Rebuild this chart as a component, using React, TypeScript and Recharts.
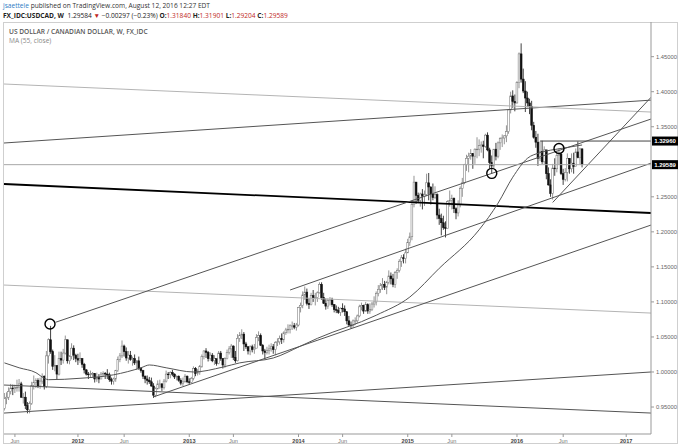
import React from "react";
import { ComposedChart, Bar, Line, XAxis, YAxis, ReferenceLine, ReferenceDot } from "recharts";

// x is counted in weeks, week 0 = the week of 2 Jan 2012. The first bar is the week of 2 May 2011.
const FIRST_WEEK = -35;
const FIRST_OPEN = 0.948;

// weekly [high, low, close]; an FX week opens at the previous close
const bars2011 = [
  [0.970, 0.945, 0.962], [0.971, 0.954, 0.964], [0.978, 0.960, 0.972], [0.983, 0.968, 0.977],
  [0.982, 0.967, 0.976], [0.982, 0.970, 0.978], [0.989, 0.972, 0.978], [0.990, 0.972, 0.983],
  [0.986, 0.963, 0.964], [0.970, 0.955, 0.964], [0.972, 0.947, 0.952], [0.957, 0.941, 0.946],
  [0.958, 0.941, 0.955], [0.986, 0.953, 0.981], [0.995, 0.975, 0.985], [0.991, 0.977, 0.988],
  [0.991, 0.977, 0.980], [0.992, 0.976, 0.987], [0.998, 0.983, 0.994], [0.995, 0.975, 0.979],
  [1.030, 0.977, 1.023], [1.048, 1.012, 1.046], [1.0658, 1.026, 1.029], [1.032, 1.003, 1.008],
  [1.024, 1.001, 1.009], [1.010, 0.989, 0.997], [1.029, 0.995, 1.019], [1.029, 1.010, 1.017],
  [1.033, 1.012, 1.027], [1.052, 1.025, 1.046], [1.046, 1.012, 1.016], [1.024, 1.011, 1.022],
  [1.041, 1.018, 1.034], [1.038, 1.017, 1.024], [1.026, 1.014, 1.019],
];
const bars2012 = [
  [1.026, 1.010, 1.017], [1.028, 1.013, 1.019], [1.020, 1.006, 1.011], [1.013, 0.998, 1.003],
  [1.004, 0.995, 0.997], [1.000, 0.990, 0.996], [1.002, 0.992, 0.997], [1.000, 0.993, 0.998],
  [0.997, 0.985, 0.990], [0.999, 0.986, 0.992], [0.997, 0.984, 0.990], [1.000, 0.993, 0.997],
  [1.001, 0.993, 0.998], [1.000, 0.990, 0.997], [1.004, 0.990, 0.996], [0.999, 0.986, 0.989],
  [0.992, 0.982, 0.987], [0.992, 0.982, 0.990], [1.003, 0.986, 1.002], [1.022, 1.000, 1.018],
  [1.027, 1.014, 1.023], [1.045, 1.020, 1.037], [1.039, 1.022, 1.029], [1.035, 1.016, 1.020],
  [1.030, 1.012, 1.024], [1.030, 1.016, 1.018], [1.022, 1.009, 1.019], [1.025, 1.010, 1.013],
  [1.017, 1.003, 1.016], [1.022, 1.003, 1.005], [1.007, 0.999, 1.002], [1.003, 0.990, 0.994],
  [0.995, 0.984, 0.990], [0.995, 0.982, 0.988], [0.993, 0.983, 0.986], [0.992, 0.979, 0.980],
  [0.984, 0.963, 0.967], [0.978, 0.964, 0.976], [0.988, 0.975, 0.983], [0.989, 0.976, 0.983],
  [0.984, 0.973, 0.978], [0.990, 0.975, 0.987], [1.002, 0.985, 0.997], [1.000, 0.990, 0.996],
  [1.001, 0.991, 0.999], [1.003, 0.994, 0.997], [0.998, 0.990, 0.993], [0.995, 0.988, 0.994],
  [0.995, 0.986, 0.988], [0.991, 0.981, 0.984], [0.992, 0.980, 0.986], [0.997, 0.985, 0.994],
  [0.995, 0.984, 0.986],
];
const bars2013 = [
  [0.991, 0.982, 0.985], [0.993, 0.984, 0.991], [1.008, 0.988, 1.005], [1.007, 0.994, 0.998],
  [1.004, 0.995, 0.999], [1.010, 0.996, 1.008], [1.025, 1.006, 1.022], [1.031, 1.018, 1.030],
  [1.034, 1.020, 1.028], [1.030, 1.015, 1.019], [1.028, 1.016, 1.024], [1.027, 1.014, 1.016],
  [1.024, 1.010, 1.019], [1.019, 1.009, 1.012], [1.030, 1.011, 1.027], [1.030, 1.016, 1.019],
  [1.020, 1.005, 1.010], [1.021, 1.006, 1.019], [1.032, 1.018, 1.028], [1.037, 1.025, 1.033],
  [1.040, 1.020, 1.037], [1.038, 1.017, 1.021], [1.030, 1.013, 1.016], [1.054, 1.015, 1.048],
  [1.057, 1.043, 1.052], [1.061, 1.047, 1.054], [1.057, 1.030, 1.040], [1.043, 1.033, 1.036],
  [1.037, 1.025, 1.030], [1.038, 1.024, 1.036], [1.039, 1.028, 1.032], [1.040, 1.026, 1.034],
  [1.054, 1.034, 1.049], [1.058, 1.044, 1.052], [1.055, 1.037, 1.038], [1.040, 1.025, 1.030],
  [1.033, 1.018, 1.028], [1.036, 1.025, 1.031], [1.039, 1.025, 1.033], [1.041, 1.029, 1.036],
  [1.040, 1.026, 1.032], [1.044, 1.024, 1.042], [1.048, 1.037, 1.043], [1.052, 1.039, 1.048],
  [1.055, 1.040, 1.046], [1.058, 1.042, 1.056], [1.063, 1.053, 1.060], [1.068, 1.055, 1.061],
  [1.068, 1.055, 1.066], [1.072, 1.060, 1.066], [1.070, 1.061, 1.064], [1.070, 1.059, 1.067],
];
const bars2014 = [
  [1.093, 1.065, 1.092], [1.099, 1.085, 1.095], [1.115, 1.091, 1.110], [1.122, 1.103, 1.114],
  [1.119, 1.095, 1.098], [1.105, 1.090, 1.096], [1.113, 1.095, 1.109], [1.117, 1.100, 1.106],
  [1.113, 1.095, 1.106], [1.115, 1.100, 1.113], [1.128, 1.112, 1.125], [1.128, 1.103, 1.106],
  [1.113, 1.097, 1.098], [1.105, 1.089, 1.094], [1.105, 1.090, 1.102], [1.107, 1.095, 1.103],
  [1.106, 1.093, 1.096], [1.097, 1.085, 1.089], [1.095, 1.084, 1.088], [1.093, 1.083, 1.085],
  [1.092, 1.080, 1.091], [1.098, 1.085, 1.090], [1.095, 1.080, 1.086], [1.087, 1.068, 1.073],
  [1.080, 1.066, 1.067], [1.072, 1.062, 1.066], [1.075, 1.063, 1.073], [1.078, 1.067, 1.073],
  [1.082, 1.070, 1.080], [1.096, 1.078, 1.093], [1.099, 1.088, 1.095], [1.096, 1.083, 1.087],
  [1.100, 1.086, 1.096], [1.098, 1.083, 1.087], [1.098, 1.083, 1.089], [1.100, 1.087, 1.097],
  [1.108, 1.092, 1.100], [1.115, 1.095, 1.112], [1.124, 1.108, 1.118], [1.127, 1.113, 1.123],
  [1.134, 1.117, 1.125], [1.130, 1.117, 1.121], [1.130, 1.111, 1.128], [1.145, 1.125, 1.137],
  [1.142, 1.125, 1.133], [1.140, 1.121, 1.125], [1.144, 1.120, 1.142], [1.148, 1.133, 1.145],
  [1.161, 1.142, 1.158], [1.167, 1.150, 1.163], [1.168, 1.155, 1.162], [1.176, 1.155, 1.170],
];
const bars2015 = [
  [1.190, 1.170, 1.185], [1.199, 1.180, 1.193], [1.245, 1.188, 1.239], [1.280, 1.235, 1.271],
  [1.271, 1.240, 1.252], [1.256, 1.241, 1.245], [1.256, 1.236, 1.254], [1.261, 1.232, 1.251],
  [1.259, 1.237, 1.253], [1.283, 1.251, 1.270], [1.284, 1.245, 1.264], [1.265, 1.239, 1.254],
  [1.269, 1.245, 1.249], [1.265, 1.247, 1.253], [1.255, 1.218, 1.224], [1.233, 1.210, 1.219],
  [1.226, 1.195, 1.213], [1.223, 1.203, 1.206], [1.215, 1.192, 1.205], [1.245, 1.205, 1.243],
  [1.259, 1.236, 1.245], [1.253, 1.232, 1.248], [1.249, 1.227, 1.233], [1.235, 1.218, 1.227],
  [1.245, 1.222, 1.239], [1.265, 1.235, 1.262], [1.277, 1.250, 1.270], [1.297, 1.268, 1.296],
  [1.310, 1.287, 1.305], [1.313, 1.285, 1.308], [1.318, 1.303, 1.312], [1.310, 1.290, 1.308],
  [1.319, 1.297, 1.318], [1.335, 1.305, 1.318], [1.332, 1.308, 1.323], [1.329, 1.313, 1.324],
  [1.330, 1.305, 1.322], [1.340, 1.320, 1.338], [1.342, 1.315, 1.317], [1.320, 1.290, 1.299],
  [1.309, 1.283, 1.294], [1.318, 1.290, 1.318], [1.327, 1.302, 1.308], [1.329, 1.305, 1.327],
  [1.335, 1.317, 1.333], [1.339, 1.321, 1.334], [1.338, 1.325, 1.337], [1.352, 1.328, 1.343],
  [1.375, 1.340, 1.374], [1.400, 1.369, 1.394], [1.402, 1.377, 1.386], [1.396, 1.372, 1.384],
];
const bars2016 = [
  [1.415, 1.383, 1.413], [1.456, 1.405, 1.454], [1.469, 1.413, 1.418], [1.433, 1.398, 1.401],
  [1.415, 1.371, 1.391], [1.400, 1.378, 1.384], [1.390, 1.368, 1.379], [1.387, 1.345, 1.352],
  [1.357, 1.333, 1.335], [1.344, 1.320, 1.328], [1.340, 1.294, 1.305], [1.329, 1.301, 1.315],
  [1.330, 1.297, 1.300], [1.322, 1.297, 1.317], [1.314, 1.275, 1.283], [1.292, 1.266, 1.267],
  [1.275, 1.250, 1.255], [1.297, 1.246, 1.291], [1.305, 1.280, 1.290], [1.316, 1.285, 1.309],
  [1.319, 1.296, 1.311], [1.313, 1.281, 1.283], [1.290, 1.267, 1.275], [1.291, 1.272, 1.285],
  [1.312, 1.272, 1.305], [1.305, 1.283, 1.290], [1.312, 1.285, 1.298], [1.313, 1.283, 1.293],
  [1.319, 1.295, 1.314], [1.329, 1.305, 1.306], [1.320, 1.296, 1.3184], [1.31901, 1.29204, 1.29589],
];

// MA (55, close): [week, value]
const maPoints = [
  [-35, 1.013], [-28, 1.006], [-20, 0.999], [-16, 0.991], [-14, 0.989], [1, 0.991], [17, 0.996],
  [30, 1.006], [34, 1.010], [42, 1.006], [55, 1.0], [69, 1.007], [77, 1.013], [93, 1.02],
  [106, 1.037], [114, 1.048], [142, 1.081], [158, 1.107], [172, 1.148], [191, 1.203],
  [200, 1.241], [207, 1.278], [214, 1.305], [220, 1.313], [230, 1.319], [240, 1.324],
];

const X_MIN = -35.2;
const X_MAX = 272.8;
const Y_MIN = 0.9115;
const Y_MAX = 1.4995;

const xTicks = [-30, 0, 22, 53, 74, 105, 126, 157, 178, 209, 231, 261];
const xTickLabels = ["Jun", "2012", "Jun", "2013", "Jun", "2014", "Jun", "2015", "Jun", "2016", "Jun", "2017"];
// 1.30000 sits under the price tags, so it is not shown
const yTicks = [0.95, 1.0, 1.05, 1.1, 1.15, 1.2, 1.25, 1.35, 1.4, 1.45];

// drawn trend lines: [week, price] -> [week, price]
const trendLines = [
  { a: [X_MIN, 1.2683], b: [X_MAX, 1.2269], color: "#000", w: 1.8 },
  { a: [X_MIN, 1.3268], b: [X_MAX, 1.388], color: "#555", w: 1 },
  { a: [X_MIN, 1.411], b: [X_MAX, 1.371], color: "#b4b4b4", w: 1 },
  { a: [X_MIN, 1.1241], b: [X_MAX, 1.0841], color: "#b4b4b4", w: 1 },
  { a: [X_MIN, 0.9414], b: [X_MAX, 1.0], color: "#555", w: 1 },
  { a: [X_MIN, 0.9814], b: [X_MAX, 0.9414], color: "#555", w: 1 },
  { a: [-10.6, 1.071], b: [X_MAX, 1.361], color: "#555", w: 1 },
  { a: [101, 1.117], b: [X_MAX, 1.298], color: "#555", w: 1 },
  { a: [35.8, 0.9643], b: [X_MAX, 1.2097], color: "#555", w: 1 },
  { a: [226, 1.242], b: [X_MAX, 1.392], color: "#555", w: 1 },
];
const circles = [[-13.3, 1.0685], [197, 1.2835], [229, 1.319]];

const allBars = [...bars2011, ...bars2012, ...bars2013, ...bars2014, ...bars2015, ...bars2016];
const rows: any[] = allBars.map((b, i) => ({
  k: FIRST_WEEK + i,
  open: i === 0 ? FIRST_OPEN : allBars[i - 1][2],
  high: b[0],
  low: b[1],
  close: b[2],
  range: [b[1], b[0]],
}));
maPoints.forEach(([k, v]) => {
  rows[k - FIRST_WEEK].ma = v;
});

const Candle = (props: any) => {
  const { x, y, width, height, payload } = props;
  if (!payload) return null;
  const { open, close, high, low } = payload;
  const top0 = Math.min(y, y + height);
  const h = Math.abs(height);
  const cx = x + width / 2;
  const span = high - low || 1e-9;
  const toY = (v: number) => top0 + ((high - v) / span) * h;
  const up = close >= open;
  const bTop = toY(Math.max(open, close));
  const bBot = toY(Math.min(open, close));
  const col = up ? "#7a7a7a" : "#111";
  return (
    <g>
      <line x1={cx} x2={cx} y1={top0} y2={top0 + h} stroke={col} strokeWidth={0.8} />
      <rect x={cx - 0.9} y={bTop} width={1.8} height={Math.max(bBot - bTop, 0.6)}
        fill={up ? "#fff" : "#111"} stroke={col} strokeWidth={0.55} />
    </g>
  );
};

const PriceTag = (props: any) => {
  const { viewBox, text } = props;
  if (!viewBox) return null;
  const x = viewBox.x + viewBox.width + 1;
  const y = viewBox.y;
  return (
    <g>
      <rect x={x} y={y - 4.5} width={26} height={9} fill="#000" />
      <text x={x + 13} y={y + 2.1} fill="#fff" fontSize={6} fontWeight="bold" textAnchor="middle"
        fontFamily="Liberation Sans, Arial, sans-serif">{text}</text>
    </g>
  );
};

const XTick = (props: any) => {
  const { x, y, payload } = props;
  const label = xTickLabels[xTicks.indexOf(payload.value)];
  const year = label !== "Jun";
  return (
    <text x={x} y={y + 5} textAnchor="middle" fontSize={5.6} fill={year ? "#444" : "#777"}
      fontWeight={year ? "bold" : "normal"} fontFamily="Liberation Sans, Arial, sans-serif">{label}</text>
  );
};

export default function App() {
  return (
    <div style={{ position: "absolute", left: 0, top: 0, width: 680, height: 448, background: "#fff", overflow: "hidden" }}>
      <div style={{ position: "absolute", left: 3, top: 1, fontSize: 6.6, lineHeight: "9px", fontFamily: "'Open Sans', sans-serif", color: "#333", whiteSpace: "nowrap" }}>
        <span style={{ color: "#2d7bc4" }}>jsaettele</span> published on TradingView.com, August 12, 2016 12:27 EDT
      </div>
      <div style={{ position: "absolute", left: 3, top: 10.5, fontSize: 6.6, lineHeight: "9px", fontFamily: "'Open Sans', sans-serif", color: "#222", whiteSpace: "nowrap" }}>
        <b>FX_IDC:USDCAD, W</b>&nbsp; 1.29584 <span style={{ color: "#c0281e" }}>▼</span> −0.00297 (−0.23%){" "}
        <b>O:</b><span style={{ color: "#c0281e" }}>1.31840</span>{" "}
        <b>H:</b><span style={{ color: "#c0281e" }}>1.31901</span>{" "}
        <b>L:</b><span style={{ color: "#c0281e" }}>1.29204</span>{" "}
        <b>C:</b><span style={{ color: "#c0281e" }}>1.29589</span>
      </div>
      <div style={{ position: "absolute", left: 3, top: 22, width: 673, height: 420, border: "1px solid #cfcfcf" }} />
      <div style={{ position: "absolute", left: 0, top: 0 }}>
        <ComposedChart width={680} height={448} data={rows} margin={{ top: 22, right: 0, bottom: 0, left: 4 }}>
          <XAxis dataKey="k" type="number" domain={[X_MIN, X_MAX]} ticks={xTicks} allowDataOverflow
            height={14} tickSize={3} tickMargin={1} axisLine={{ stroke: "#999" }} tickLine={{ stroke: "#999" }}
            tick={<XTick />} interval={0} />
          <YAxis orientation="right" type="number" domain={[Y_MIN, Y_MAX]} ticks={yTicks} allowDataOverflow
            width={29} tickSize={3} tickMargin={2} axisLine={{ stroke: "#999" }} tickLine={{ stroke: "#999" }}
            tickFormatter={(v: number) => v.toFixed(5)} interval={0}
            tick={{ fontSize: 5.8, fill: "#666", fontFamily: "Liberation Sans, Arial, sans-serif" }} />
          {trendLines.map((t, i) => (
            <ReferenceLine key={i} segment={[{ x: t.a[0], y: t.a[1] }, { x: t.b[0], y: t.b[1] }]}
              stroke={t.color} strokeWidth={t.w} ifOverflow="hidden" />
          ))}
          <ReferenceLine y={1.29589} stroke="#a8a8a8" strokeWidth={1} label={<PriceTag text="1.29589" />} />
          <ReferenceLine segment={[{ x: 220, y: 1.3296 }, { x: X_MAX, y: 1.3296 }]} stroke="#444" strokeWidth={1}
            label={<PriceTag text="1.32960" />} />
          <Line dataKey="ma" type="monotone" connectNulls dot={false} stroke="#555" strokeWidth={1}
            isAnimationActive={false} />
          <Bar dataKey="range" barSize={2} shape={<Candle />} isAnimationActive={false} />
          {circles.map((c, i) => (
            <ReferenceDot key={i} x={c[0]} y={c[1]} r={5} fill="none" stroke="#000" strokeWidth={1.4} ifOverflow="visible" />
          ))}
        </ComposedChart>
      </div>
      <div style={{ position: "absolute", left: 9, top: 26.5, fontSize: 6.6, lineHeight: "9px", fontWeight: 600, fontFamily: "'Open Sans', sans-serif", color: "#555", whiteSpace: "nowrap" }}>
        US DOLLAR / CANADIAN DOLLAR, W, FX_IDC
      </div>
      <div style={{ position: "absolute", left: 9, top: 35.5, fontSize: 6.6, lineHeight: "9px", fontFamily: "'Open Sans', sans-serif", color: "#888", whiteSpace: "nowrap" }}>
        MA (55, close)
      </div>
    </div>
  );
}
